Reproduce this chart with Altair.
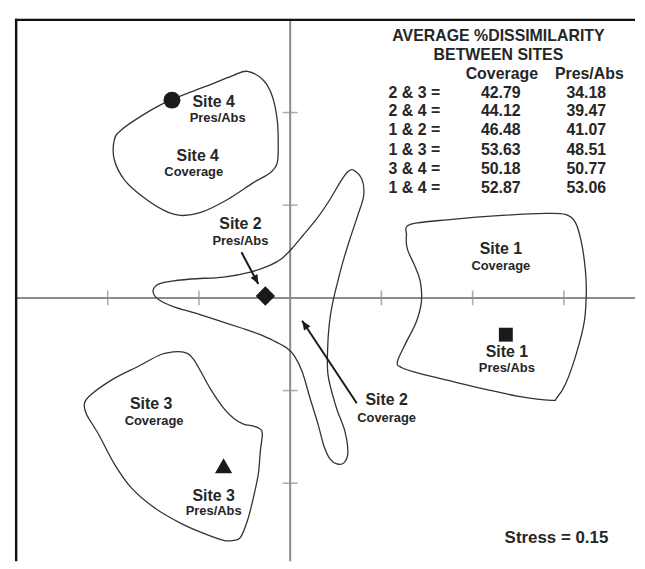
import altair as alt
import pandas as pd

# ---------------- data (NMDS units) ----------------
site4_x = [-0.468, -0.294, -0.196, -0.142, -0.131, -0.142, -0.218, -0.403, -0.686, -0.980, -1.198,
           -1.383, -1.634, -1.819, -1.928, -1.928, -1.852, -1.634, -1.383, -1.122, -0.839, -0.621]
site4_y = [2.445, 2.349, 2.177, 1.920, 1.673, 1.458, 1.351, 1.244, 1.062, 0.922, 0.890,
           0.944, 1.105, 1.276, 1.491, 1.705, 1.812, 1.962, 2.102, 2.209, 2.316, 2.402]

site2_x = [0.686, 0.784, 0.806, 0.741, 0.654, 0.577, 0.512, 0.468, 0.436, 0.414, 0.414, 0.501,
           0.599, 0.632, 0.588, 0.512, 0.436, 0.370, 0.305, 0.218, 0.131, 0.044, -0.044, -0.163,
           -0.327, -0.545, -0.980, -1.275, -1.438, -1.503, -1.460, -1.351, -1.089, -0.730, -0.436,
           -0.218, -0.087, 0.022, 0.142, 0.294, 0.436, 0.545, 0.621]
site2_y = [1.383, 1.287, 1.105, 0.890, 0.633, 0.386, 0.139, -0.043, -0.225, -0.472, -0.826, -1.169,
           -1.437, -1.673, -1.780, -1.791, -1.737, -1.598, -1.362, -1.083, -0.794, -0.622, -0.536, -0.472,
           -0.397, -0.322, -0.182, -0.097, -0.021, 0.064, 0.139, 0.172, 0.204, 0.225, 0.279,
           0.354, 0.429, 0.536, 0.676, 0.858, 1.062, 1.244, 1.351]

site1_x = [1.318, 1.776, 2.320, 2.800, 3.017, 3.126, 3.192, 3.235, 3.246, 3.224, 3.137, 3.017, 2.919,
           2.865, 2.505, 2.146, 1.776, 1.416, 1.220, 1.176, 1.275, 1.383, 1.438, 1.427, 1.362, 1.285, 1.275]
site1_y = [0.794, 0.847, 0.890, 0.912, 0.901, 0.815, 0.601, 0.311, 0.064, -0.257, -0.601, -0.933, -1.083,
           -1.105, -1.062, -0.987, -0.901, -0.815, -0.751, -0.686, -0.472, -0.257, -0.043, 0.172, 0.354, 0.526, 0.676]

site3_x = [-1.122, -1.231, -1.416, -1.667, -1.928, -2.179, -2.255, -2.233, -2.102, -1.928, -1.743, -1.492,
           -1.198, -0.948, -0.730, -0.621, -0.545, -0.468, -0.403, -0.349, -0.327, -0.305, -0.327, -0.403,
           -0.512, -0.621, -0.730, -0.871, -0.980, -1.057]
site3_y = [-0.601, -0.579, -0.611, -0.740, -0.869, -1.040, -1.137, -1.255, -1.469, -1.791, -2.048, -2.263,
           -2.434, -2.542, -2.617, -2.617, -2.584, -2.402, -2.155, -1.898, -1.651, -1.469, -1.416, -1.383,
           -1.362, -1.298, -1.190, -0.987, -0.794, -0.665]

# Pres/Abs ordination points
pa_site1 = (2.364, -0.397)
pa_site2 = (-0.272, 0.021)
pa_site3 = (-0.730, -1.812)
pa_site4 = (-1.296, 2.134)

# arrows (tail, tip)
arrow_pa2 = [(-0.534, 0.493), (-0.349, 0.150)]
arrow_cov2 = [(0.730, -1.137), (0.131, -0.247)]

# labels
site_text = ["Site 4", "Site 4", "Site 2", "Site 1", "Site 1", "Site 2", "Site 3", "Site 3"]
site_tx = [-0.839, -1.013, -0.545, 2.309, 2.375, 1.057, -1.525, -0.839]
site_ty = [2.113, 1.534, 0.794, 0.525, -0.579, -1.105, -1.147, -2.134]
sub_text = ["Pres/Abs", "Coverage", "Pres/Abs", "Coverage", "Pres/Abs", "Coverage", "Coverage", "Pres/Abs"]
sub_tx = [-0.795, -1.057, -0.545, 2.309, 2.375, 1.057, -1.492, -0.839]
sub_ty = [1.941, 1.362, 0.611, 0.343, -0.761, -1.298, -1.330, -2.295]

# dissimilarity table
pairs = ["2 & 3 =", "2 & 4 =", "1 & 2 =", "1 & 3 =", "3 & 4 =", "1 & 4 ="]
coverage = ["42.79", "44.12", "46.48", "53.63", "50.18", "52.87"]
presabs = ["34.18", "39.47", "41.07", "48.51", "50.77", "53.06"]
row_y = [2.209, 2.016, 1.812, 1.598, 1.394, 1.190]
title_lines = ["AVERAGE %DISSIMILARITY", "BETWEEN SITES"]
title_y = [2.831, 2.617]
col_heads = ["Coverage", "Pres/Abs"]
col_x = [2.320, 3.279]
pair_x = 1.078
cov_x = 2.309
pa_x = 3.246
title_x = 2.283
head_y = 2.413
stress_text = "Stress = 0.15"
stress_pos = (2.919, -2.595)

x_ticks = [-2, -1, 1, 2, 3]
y_ticks = [-2, -1, 1, 2]

# ---------------- chart ----------------
W, H = 624, 546
FONT = "Liberation Sans"
INK = "#262626"
AXC = "#8c8c8c"

xs = alt.Scale(domain=[-3.017, 3.780], nice=False, zero=False)
ys = alt.Scale(domain=[-2.842, 3.013], nice=False, zero=False)


def X(f="x"):
    return alt.X(f"{f}:Q", scale=xs, axis=None)


def Y(f="y"):
    return alt.Y(f"{f}:Q", scale=ys, axis=None)


one = pd.DataFrame({"a": [0]})

frame_left = alt.Chart(one).mark_rule(color="#111", strokeWidth=2.4).encode(
    x=alt.value(1.2), y=alt.value(0), y2=alt.value(H))
frame_top = alt.Chart(one).mark_rule(color="#111", strokeWidth=2.4).encode(
    y=alt.value(1.2), x=alt.value(0), x2=alt.value(W))

axis_v = alt.Chart(one).mark_rule(color=AXC, strokeWidth=2).encode(x=alt.X(datum=0, scale=xs, axis=None))
axis_h = alt.Chart(one).mark_rule(color=AXC, strokeWidth=2).encode(y=alt.Y(datum=0, scale=ys, axis=None))

xt = pd.DataFrame({"x": x_ticks, "y": [0] * len(x_ticks)})
yt = pd.DataFrame({"y": y_ticks, "x": [0] * len(y_ticks)})
ticks_x = alt.Chart(xt).mark_tick(orient="vertical", size=15, thickness=1.6, color=AXC).encode(x=X(), y=Y())
ticks_y = alt.Chart(yt).mark_tick(orient="horizontal", size=15, thickness=1.6, color=AXC).encode(x=X(), y=Y())

rows = []
for name, xv, yv in [("s4", site4_x, site4_y), ("s2", site2_x, site2_y),
                     ("s1", site1_x, site1_y), ("s3", site3_x, site3_y)]:
    for i, (a, b) in enumerate(zip(xv, yv)):
        rows.append({"shape": name, "o": i, "x": a, "y": b})
outlines = alt.Chart(pd.DataFrame(rows)).mark_line(
    interpolate="cardinal-closed", color="#333", strokeWidth=1.3).encode(
    x=X(), y=Y(), detail="shape:N", order="o:Q")


def pt(p):
    return pd.DataFrame({"x": [p[0]], "y": [p[1]]})


m1 = alt.Chart(pt(pa_site1)).mark_point(shape="square", filled=True, size=196, color="#1a1a1a", opacity=1).encode(x=X(), y=Y())
m2 = alt.Chart(pt(pa_site2)).mark_point(shape="diamond", filled=True, size=380, color="#1a1a1a", opacity=1).encode(x=X(), y=Y())
m3 = alt.Chart(pt(pa_site3)).mark_point(shape="triangle-up", filled=True, size=300, color="#1a1a1a", opacity=1).encode(x=X(), y=Y())
m4 = alt.Chart(pt(pa_site4)).mark_point(shape="circle", filled=True, size=290, color="#1a1a1a", opacity=1).encode(x=X(), y=Y())

HEAD = "M0,0L0.42,1L-0.42,1Z"


def arrow(seg, ang):
    d = pd.DataFrame({"x": [seg[0][0], seg[1][0]], "y": [seg[0][1], seg[1][1]], "o": [0, 1]})
    line = alt.Chart(d).mark_line(color="#1a1a1a", strokeWidth=2).encode(x=X(), y=Y(), order="o:Q")
    head = alt.Chart(pt(seg[1])).mark_point(shape=HEAD, filled=True, size=340, angle=ang,
                                            color="#1a1a1a", opacity=1).encode(x=X(), y=Y())
    return line + head


a1 = arrow(arrow_pa2, 152)
a2 = arrow(arrow_cov2, 326)

site_lbl = alt.Chart(pd.DataFrame({"x": site_tx, "y": site_ty, "t": site_text})).mark_text(
    font=FONT, fontWeight="bold", fontSize=16, color=INK, align="center", baseline="middle").encode(
    x=X(), y=Y(), text="t:N")
sub_lbl = alt.Chart(pd.DataFrame({"x": sub_tx, "y": sub_ty, "t": sub_text})).mark_text(
    font=FONT, fontWeight="bold", fontSize=13, color=INK, align="center", baseline="middle").encode(
    x=X(), y=Y(), text="t:N")

tbl_title = alt.Chart(pd.DataFrame({"x": [title_x] * 2, "y": title_y, "t": title_lines})).mark_text(
    font=FONT, fontWeight="bold", fontSize=16, color=INK, align="center", baseline="middle").encode(
    x=X(), y=Y(), text="t:N")
tbl_heads = alt.Chart(pd.DataFrame({"x": col_x, "y": [head_y] * 2, "t": col_heads})).mark_text(
    font=FONT, fontWeight="bold", fontSize=16, color=INK, align="center", baseline="middle").encode(
    x=X(), y=Y(), text="t:N")
tbl_pairs = alt.Chart(pd.DataFrame({"x": [pair_x] * 6, "y": row_y, "t": pairs})).mark_text(
    font=FONT, fontWeight="bold", fontSize=16, color=INK, align="left", baseline="middle").encode(
    x=X(), y=Y(), text="t:N")
tbl_cov = alt.Chart(pd.DataFrame({"x": [cov_x] * 6, "y": row_y, "t": coverage})).mark_text(
    font=FONT, fontWeight="bold", fontSize=16, color=INK, align="center", baseline="middle").encode(
    x=X(), y=Y(), text="t:N")
tbl_pa = alt.Chart(pd.DataFrame({"x": [pa_x] * 6, "y": row_y, "t": presabs})).mark_text(
    font=FONT, fontWeight="bold", fontSize=16, color=INK, align="center", baseline="middle").encode(
    x=X(), y=Y(), text="t:N")
stress = alt.Chart(pd.DataFrame({"x": [stress_pos[0]], "y": [stress_pos[1]], "t": [stress_text]})).mark_text(
    font=FONT, fontWeight="bold", fontSize=17, color=INK, align="center", baseline="middle").encode(
    x=X(), y=Y(), text="t:N")

chart = alt.layer(
    axis_v, axis_h, ticks_x, ticks_y, outlines, m1, m2, m3, m4, a1, a2,
    site_lbl, sub_lbl, tbl_title, tbl_heads, tbl_pairs, tbl_cov, tbl_pa, stress,
    frame_left, frame_top,
).properties(
    width=W, height=H, padding={"left": 5, "top": 7, "right": 0, "bottom": 0}, background="white"
).configure_view(stroke=None)

chart.save("out.html", embed_options={"renderer": "svg", "actions": False})
